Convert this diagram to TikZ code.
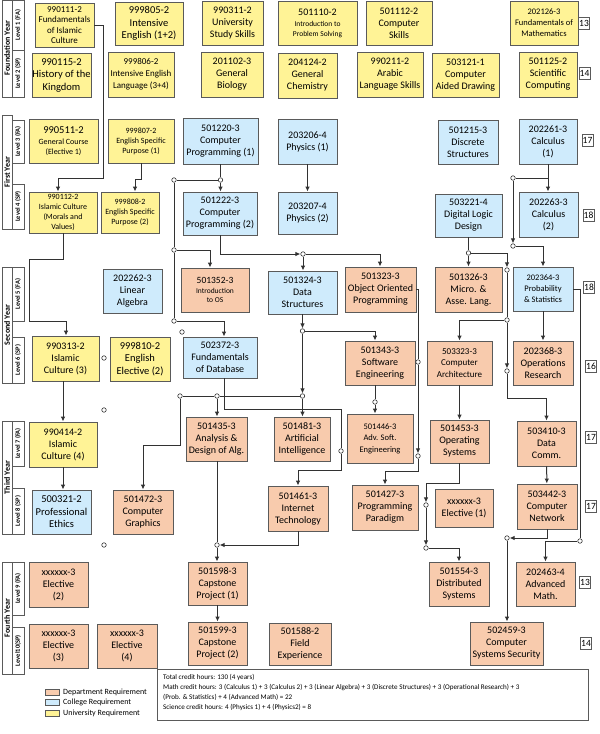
\documentclass[tikz,border=0pt]{standalone}
\usepackage{fontspec}
\setmainfont{Carlito}
\usetikzlibrary{arrows.meta}
\definecolor{DeptFill}{RGB}{248,203,173}
\definecolor{CollFill}{RGB}{207,235,252}
\definecolor{UnivFill}{RGB}{255,243,150}
\definecolor{EdgeGray}{RGB}{90,90,90}
\definecolor{LinkGray}{RGB}{50,50,50}
\newcommand{\crsSmall}{\fontsize{7.5}{10}\selectfont}
\newcommand{\crsMid}{\fontsize{8}{10.5}\selectfont}

\begin{document}
\begin{tikzpicture}[x=1pt,y=-1pt,>={Latex[length=5pt,width=4.5pt]},
  crs/.style={draw=EdgeGray,line width=0.8pt,inner sep=0pt,align=center,font=\fontsize{10}{12}\selectfont},
  dept/.style={crs,fill=DeptFill},
  coll/.style={crs,fill=CollFill},
  univ/.style={crs,fill=UnivFill},
  link/.style={draw=LinkGray,line width=1pt},
  jn/.style={circle,draw=LinkGray,fill=white,line width=0.6pt,inner sep=0pt,minimum size=4.5pt},
  hrs/.style={draw=EdgeGray,line width=0.6pt,inner sep=0pt,minimum width=11pt,minimum height=12pt,font=\fontsize{9.5}{10}\selectfont},
  yr/.style={rotate=90,font=\fontsize{8}{9}\selectfont\bfseries},
  lvl/.style={rotate=90,font=\fontsize{6.5}{7}\selectfont\bfseries}]
\useasboundingbox (0,0) rectangle (600,734);

% year and level columns
\draw[EdgeGray,line width=0.6pt] (2,0) rectangle (12,97) (12,0) rectangle (24,50) (12,50) rectangle (24,97);
\node[yr] (y0) at (7,48) {Foundation Year};
\node[lvl] (l1) at (18,25) {Level 1 (FA)};
\node[lvl] (l2) at (18,73.5) {Level 2 (SP)};
\draw[EdgeGray,line width=0.6pt] (2,115) rectangle (12,229) (12,120) rectangle (24,163) (12,184) rectangle (24,229);
\node[yr] (y1) at (7,172) {First Year};
\node[lvl] (l3) at (18,141.5) {Level 3 (FA)};
\node[lvl] (l4) at (18,206.5) {Level 4 (SP)};
\draw[EdgeGray,line width=0.6pt] (2,267) rectangle (12,383) (12,267) rectangle (24,321) (12,337) rectangle (24,383);
\node[yr] (y2) at (7,325) {Second Year};
\node[lvl] (l5) at (18,294) {Level 5 (FA)};
\node[lvl] (l6) at (18,360) {Level 6 (SP)};
\draw[EdgeGray,line width=0.6pt] (2,421) rectangle (12,534) (12,421) rectangle (24,466) (12,488) rectangle (24,534);
\node[yr] (y3) at (7,477.5) {Third Year};
\node[lvl] (l7) at (18,443.5) {Level 7 (FA)};
\node[lvl] (l8) at (18,511) {Level 8 (SP)};
\draw[EdgeGray,line width=0.6pt] (2,562) rectangle (12,674) (12,562) rectangle (24,615) (12,627) rectangle (24,674);
\node[yr] (y4) at (7,618) {Fourth Year};
\node[lvl] (l9) at (18,588.5) {Level 9 (FA)};
\node[lvl] (l10) at (18,650.5) {Level10(SP)};

% level 1
\node[univ,minimum width=59pt,minimum height=44pt,font=\fontsize{9}{10.5}\selectfont] (u111) at (64.5,25) {990111-2\\Fundamentals\\of Islamic\\Culture};
\node[univ,minimum width=68pt,minimum height=43pt,font=\fontsize{10.5}{12.5}\selectfont] (u805) at (149,23.5) {999805-2\\Intensive\\English (1+2)};
\node[univ,minimum width=61pt,minimum height=44pt] (u311) at (232.5,23) {990311-2\\University\\Study Skills};
\node[univ,minimum width=79pt,minimum height=44pt] (u110) at (317.5,23) {501110-2\\[-1pt]\crsSmall Introduction to\\[-2pt]\crsSmall Problem Solving};
\node[univ,minimum width=66pt,minimum height=44pt] (u112c) at (399,23) {501112-2\\Computer\\Skills};
\node[univ,minimum width=68pt,minimum height=44pt,font=\fontsize{8.5}{11}\selectfont] (u126) at (544,23) {202126-3\\Fundamentals of\\Mathematics};
\node[hrs] (h1) at (584,23) {13};

% level 2
\node[univ,minimum width=59pt,minimum height=44pt,font=\fontsize{10.5}{12.5}\selectfont] (u115) at (61.5,75) {990115-2\\History of the\\Kingdom};
\node[univ,minimum width=66pt,minimum height=45pt,font=\fontsize{9}{12}\selectfont] (u806) at (141,74.5) {999806-2\\Intensive English\\Language (3+4)};
\node[univ,minimum width=62pt,minimum height=45pt] (u102) at (232,74.5) {201102-3\\General\\Biology};
\node[univ,minimum width=59pt,minimum height=45pt] (u124) at (307.5,75.5) {204124-2\\General\\Chemistry};
\node[univ,minimum width=66pt,minimum height=45pt] (u211) at (390,74.5) {990211-2\\Arabic\\Language Skills};
\node[univ,minimum width=67pt,minimum height=44pt] (u121) at (465.5,75) {503121-1\\Computer\\Aided Drawing};
\node[univ,minimum width=58pt,minimum height=45pt] (u125) at (548,74.5) {501125-2\\Scientific\\Computing};
\node[hrs] (h2) at (584.5,73.5) {14};

% level 3
\node[univ,minimum width=69pt,minimum height=44pt,font=\fontsize{10.5}{11.5}\selectfont] (u511) at (63.5,141) {990511-2\\[-0.5pt]\crsMid General Course\\[-1.5pt]\crsMid (Elective 1)};
\node[univ,minimum width=66pt,minimum height=44pt,font=\fontsize{8}{10}\selectfont] (u807) at (141,141) {999807-2\\English Specific\\Purpose (1)};
\node[coll,minimum width=75pt,minimum height=46pt] (c220) at (220.5,141) {501220-3\\Computer\\Programming (1)};
\node[coll,minimum width=59pt,minimum height=45pt] (c206) at (307.5,141.5) {203206-4\\Physics (1)};
\node[coll,minimum width=60pt,minimum height=44pt] (c215) at (468,142) {501215-3\\Discrete\\Structures};
\node[coll,minimum width=58pt,minimum height=45pt] (c261) at (548,141.5) {202261-3\\Calculus\\(1)};
\node[hrs] (h3) at (587.5,140.5) {17};

% level 4
\node[univ,minimum width=68pt,minimum height=41pt,font=\fontsize{8}{10}\selectfont] (u112) at (63,212.5) {990112-2\\Islamic Culture\\(Morals and\\Values)};
\node[univ,minimum width=58pt,minimum height=41pt,font=\fontsize{8}{10}\selectfont] (u808) at (130,212.5) {999808-2\\English Specific\\Purpose (2)};
\node[coll,minimum width=74pt,minimum height=43pt] (c222) at (220,213.5) {501222-3\\Computer\\Programming (2)};
\node[coll,minimum width=59pt,minimum height=42pt] (c207) at (307.5,213) {203207-4\\Physics (2)};
\node[coll,minimum width=67pt,minimum height=43pt] (c221) at (468.5,215.5) {503221-4\\Digital Logic\\Design};
\node[coll,minimum width=59pt,minimum height=45pt] (c263) at (548.5,214.5) {202263-3\\Calculus\\(2)};
\node[hrs] (h4) at (588.5,215) {18};

% level 5
\node[coll,minimum width=59pt,minimum height=44pt] (c262) at (132.5,291) {202262-3\\Linear\\Algebra};
\node[dept,minimum width=68pt,minimum height=44pt,font=\fontsize{9.5}{11}\selectfont] (d352) at (215,290) {501352-3\\[-0.5pt]\crsSmall Introduction\\[-2pt]\crsSmall to OS};
\node[coll,minimum width=69pt,minimum height=43pt] (c324) at (302.5,292.5) {501324-3\\Data\\Structures};
\node[dept,minimum width=71pt,minimum height=45pt] (d323) at (380.5,289.5) {501323-3\\Object Oriented\\Programming};
\node[dept,minimum width=67pt,minimum height=45pt] (d326) at (468.5,289.5) {501326-3\\Micro. \&\\Asse. Lang.};
\node[coll,minimum width=60pt,minimum height=44pt,font=\fontsize{8.5}{11}\selectfont] (c364) at (543,289) {202364-3\\Probability\\\& Statistics};
\node[hrs] (h5) at (589,287) {18};

% level 6
\node[univ,minimum width=67pt,minimum height=45pt] (u313) at (65.5,358.5) {990313-2\\Islamic\\Culture (3)};
\node[univ,minimum width=60pt,minimum height=44pt,font=\fontsize{10.5}{12.5}\selectfont] (u810) at (140,359) {999810-2\\English\\Elective (2)};
\node[coll,minimum width=74pt,minimum height=41pt] (c372) at (220,357.5) {502372-3\\Fundamentals\\of Database};
\node[dept,minimum width=70pt,minimum height=44pt] (d343) at (380,363) {501343-3\\Software\\Engineering};
\node[dept,minimum width=65pt,minimum height=44pt,font=\fontsize{9}{11.5}\selectfont] (d333) at (459.5,363) {503323-3\\Computer\\Architecture};
\node[dept,minimum width=60pt,minimum height=44pt] (d368) at (543,363) {202368-3\\Operations\\Research};
\node[hrs] (h6) at (591,366) {16};

% level 7
\node[univ,minimum width=68pt,minimum height=45pt] (u414) at (63,444.5) {990414-2\\Islamic\\Culture (4)};
\node[dept,minimum width=61pt,minimum height=44pt] (d435) at (216.5,439) {501435-3\\Analysis \&\\Design of Alg.};
\node[dept,minimum width=56pt,minimum height=44pt] (d481) at (302,439) {501481-3\\Artificial\\Intelligence};
\node[dept,minimum width=66pt,minimum height=49pt,font=\fontsize{8.5}{11.5}\selectfont] (d446) at (380,438.5) {501446-3\\Adv. Soft.\\Engineering};
\node[dept,minimum width=59pt,minimum height=43pt] (d453) at (459.5,441.5) {501453-3\\Operating\\Systems};
\node[dept,minimum width=59pt,minimum height=45pt] (d410) at (546.5,443.5) {503410-3\\Data\\Comm.};
\node[hrs] (h7) at (591,437) {17};

% level 8
\node[coll,minimum width=59pt,minimum height=44pt,font=\fontsize{10.5}{12.5}\selectfont] (c321) at (61.5,512) {500321-2\\Professional\\Ethics};
\node[dept,minimum width=60pt,minimum height=44pt] (d472) at (143,512) {501472-3\\Computer\\Graphics};
\node[dept,minimum width=60pt,minimum height=45pt] (d461) at (298,508.5) {501461-3\\Internet\\Technology};
\node[dept,minimum width=66pt,minimum height=45pt] (d427) at (385,507.5) {501427-3\\Programming\\Paradigm};
\node[dept,minimum width=58pt,minimum height=38pt] (de1) at (464,508) {xxxxxx-3\\Elective (1)};
\node[dept,minimum width=60pt,minimum height=45pt] (d442) at (547,506.5) {503442-3\\Computer\\Network};
\node[hrs] (h8) at (591,506) {17};

% level 9
\node[dept,minimum width=59pt,minimum height=45pt] (de2) at (58.5,584.5) {xxxxxx-3\\Elective\\(2)};
\node[dept,minimum width=59pt,minimum height=43pt] (d598) at (217.5,583.5) {501598-3\\Capstone\\Project (1)};
\node[dept,minimum width=60pt,minimum height=44pt] (d554) at (459,584) {501554-3\\Distributed\\Systems};
\node[dept,minimum width=59pt,minimum height=44pt] (d463) at (545.5,584) {202463-4\\Advanced\\Math.};
\node[hrs] (h9) at (585,582) {13};

% level 10
\node[dept,minimum width=59pt,minimum height=44pt] (de3) at (58.5,646) {xxxxxx-3\\Elective\\(3)};
\node[dept,minimum width=60pt,minimum height=44pt] (de4) at (127,646) {xxxxxx-3\\Elective\\(4)};
\node[dept,minimum width=59pt,minimum height=43pt] (d599) at (217.5,643.5) {501599-3\\Capstone\\Project (2)};
\node[dept,minimum width=62pt,minimum height=42pt] (d588) at (300,644) {501588-2\\Field\\Experience};
\node[dept,minimum width=73pt,minimum height=43pt] (d459) at (506.5,643.5) {502459-3\\Computer\\Systems Security};
\node[hrs] (h10) at (586,643) {14};

% junctions
\node[jn] (j1) at (220.5,180) {};
\node[jn] (j2) at (174,180) {};
\node[jn] (j3) at (174,250) {};
\node[jn] (j4) at (174,321) {};
\node[jn] (j5) at (303,254) {};
\node[jn] (j6) at (513,178) {};
\node[jn] (j7) at (513,246) {};
\node[jn] (j8) at (468.5,253) {};
\node[jn] (j9) at (507,270) {};
\node[jn] (j10) at (507,320) {};
\node[jn] (j11) at (507,371) {};
\node[jn] (j12) at (580,541) {};
\node[jn] (j13) at (507,538) {};
\node[jn] (j14) at (418,362) {};
\node[jn] (j15) at (418,456) {};
\node[jn] (j16) at (302.5,331) {};
\node[jn] (j17) at (302.5,396) {};
\node[jn] (j18) at (217,396) {};
\node[jn] (j19) at (180,396) {};
\node[jn] (j20) at (375,402) {};
\node[jn] (j21) at (341,451) {};
\node[jn] (j22) at (217,545) {};
\node[jn] (j23) at (426,505) {};
\node[jn] (j24) at (426,548) {};
\node[jn] (s1) at (182,332) {};
\node[jn] (s2) at (104,358) {};
\node[jn] (s3) at (104,410) {};
\node[jn] (s4) at (104,545) {};

% bends
\coordinate (k1) at (103,178);
\coordinate (k2) at (58,178);
\coordinate (k3) at (135,179);
\coordinate (k4) at (29,259);
\coordinate (k5) at (66,321);
\coordinate (k6) at (210,250);
\coordinate (k7) at (224,321);
\coordinate (k8) at (220,254);
\coordinate (k9) at (380,254);
\coordinate (k10) at (548,178);
\coordinate (k11) at (543,246);
\coordinate (k12) at (507,253);
\coordinate (k13) at (459.5,320);
\coordinate (k14) at (546.5,398);
\coordinate (k16) at (545.5,541);
\coordinate (k17) at (547,538);
\coordinate (k18) at (418,289.5);
\coordinate (k19) at (385,471);
\coordinate (k20) at (375,331);
\coordinate (k21) at (143,445);
\coordinate (k22) at (224,409);
\coordinate (k23) at (298,470);
\coordinate (k24) at (426,483);
\coordinate (k25) at (459,548);

% university track
\draw[link,->] (u111.east) -| (k1) -- (k2) -- (k2 |- u112.north);
\draw[link,->] (u807.south) |- (k3) -- (k3 |- u808.north);
\draw[link,->] (u112.south) |- (k4) |- (k5) -- (k5 |- u313.north);
\draw[link,->] (u313.south -| u414.north) -- (u414.north);
\draw[link,->] (u414.south) -- (u414.south |- c321.north);

% programming track
\draw[link] (c220.south) -- (j1);
\draw[link,->] (j1) -- (j1 |- c222.north);
\draw[link] (j1) -- (j2) -- (j3) -- (j4);
\draw[link,->] (j3) -- (k6) -- (k6 |- d352.north);
\draw[link,->] (j4) -- (k7) -- (k7 |- c372.north);
\draw[link,->] (c206) -- (c207);
\draw[link,->] (c222.south -| k8) -- (k8) -- (j5);
\draw[link,->] (j5) -- (j5 |- c324.north);
\draw[link,->] (j5) -- (k9) -- (k9 |- d323.north);
\draw[link,->] (c324.south -| j16) -- (j16);
\draw[link,->] (j16) -- (k20) -- (k20 |- d343.north);
\draw[link,->] (j16) -- (j17);
\draw[link,->] (j17) -- (j17 |- d481.north);
\draw[link] (j17) -- (j18) -- (j19);
\draw[link,->] (j18) -- (j18 |- d435.north);
\draw[link,->] (j19) |- (k21) -- (k21 |- d472.north);
\draw[link] (d343.south -| j20) -- (j20);
\draw[link,->] (j20) -- (j20 |- d446.north);
\draw[link] (c372.south -| k22) -- (k22) -| (j21);
\draw[link,->] (j21) |- (k23) -- (k23 |- d461.north);
\draw[link] (d435.south -| j22) -- (j22);
\draw[link,->] (d461.south) |- (j22);
\draw[link,->] (j22) -- (j22 |- d598.north);
\draw[link,->] (d598) -- (d599);
\draw[link] (d323.east) -- (k18) -- (j14);
\draw[link,->] (j14) -- (j15);
\draw[link,->] (j15) |- (k19) -- (k19 |- d427.north);

% math and hardware track
\draw[link,->] (c261.south) -- (c261.south |- c263.north);
\draw[link] (k10) -- (j6);
\draw[link,->] (j6) -- (j7);
\draw[link,->] (j7) -- (k11) -- (k11 |- c364.north);
\draw[link] (c221.south -| j8) -- (j8);
\draw[link,->] (j8) -- (j8 |- d326.north);
\draw[link,->] (j8) -- (k12) -- (j9);
\draw[link] (j9) -- (j10);
\draw[link,->] (j10) -- (k13) -- (k13 |- d333.north);
\draw[link,->] (j10) -- (j11);
\draw[link,->] (j11) |- (k14) -- (k14 |- d410.north);
\draw[link,->] (c364) -- (d368);
\draw[link] (c364.east) -| (j12);
\draw[link,->] (j12) -- (k16) -- (k16 |- d463.north);
\draw[link,->] (d410) -- (d442);
\draw[link,->] (d442.south -| k17) -- (k17) -- (j13);
\draw[link,->] (j13) -- (j13 |- d459.north);
\draw[link,->] (d333.south -| d453.north) -- (d453.north);
\draw[link,->] (d453.south) |- (k24) -- (j23);
\draw[link,->] (j23) -- (j24);
\draw[link,->] (j24) -- (k25) -- (k25 |- d554.north);

% legend
\draw[EdgeGray,line width=0.6pt,fill=DeptFill] (45,689) rectangle (59,695);
\draw[EdgeGray,line width=0.6pt,fill=CollFill] (45,699) rectangle (59,705);
\draw[EdgeGray,line width=0.6pt,fill=UnivFill] (45,710) rectangle (59,716);
\node[anchor=west,inner sep=0pt,font=\fontsize{8}{9}\selectfont] (g1) at (63,692) {Department Requirement};
\node[anchor=west,inner sep=0pt,font=\fontsize{8}{9}\selectfont] (g2) at (63,702) {College Requirement};
\node[anchor=west,inner sep=0pt,font=\fontsize{8}{9}\selectfont] (g3) at (63,713) {University Requirement};

% credit notes
\draw[EdgeGray,line width=0.6pt,fill=white] (157,669) rectangle (588,720);
\node[anchor=north west,align=left,inner sep=0pt,font=\fontsize{7.1}{10}\selectfont] (notes) at (163,674)
  {Total credit hours: 130 (4 years)\\
   Math credit hours: 3 (Calculus 1) + 3 (Calculus 2) + 3 (Linear Algebra) + 3 (Discrete Structures) + 3 (Operational Research) + 3\\
   (Prob. \& Statistics) + 4 (Advanced Math) = 22\\
   Science credit hours: 4 (Physics 1) + 4 (Physics2) = 8};
\end{tikzpicture}
\end{document}
